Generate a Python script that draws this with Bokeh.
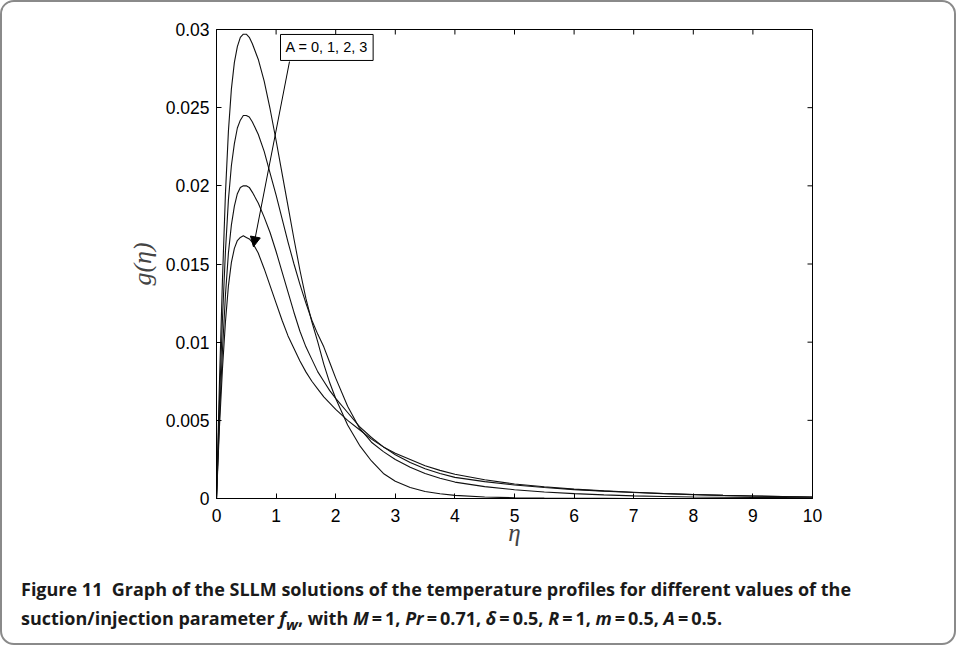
from bokeh.plotting import figure
from bokeh.models import (Range1d, FixedTicker, NumeralTickFormatter,
                          Label, Arrow, NormalHead, Div)
from bokeh.layouts import column
from bokeh.embed import file_html
from bokeh.resources import INLINE

# ---------------- data ----------------
eta = [0, 0.05, 0.1, 0.15, 0.2, 0.25, 0.3, 0.35, 0.4, 0.45, 0.5, 0.55, 0.6,
       0.7, 0.8, 0.9, 1.0, 1.1, 1.2, 1.3, 1.4, 1.5, 1.6, 1.7, 1.8, 1.9, 2.0,
       2.2, 2.4, 2.6, 2.8, 3.0,
       3.25, 3.5, 3.75, 4.0,
       4.5, 5.0, 5.5, 6.0, 6.5, 7.0, 7.5, 8.0, 8.5, 9.0, 9.5, 10.0]

g_A0 = [0, 0.0075, 0.0140, 0.0195, 0.0235, 0.0262, 0.0279, 0.0289, 0.0295, 0.0297, 0.0297, 0.0295, 0.0291,
        0.0281, 0.0267, 0.0249, 0.0229, 0.0208, 0.0187, 0.0166, 0.0146, 0.0128, 0.0113, 0.0100, 0.0086, 0.0074, 0.0064,
        0.0047, 0.0034, 0.0024, 0.0016, 0.0011,
        0.0007, 0.00045, 0.0003, 0.0002,
        0.0001, 0.00005, 0.00003, 0.00002, 0.00001, 0, 0, 0, 0, 0, 0, 0]

g_A1 = [0, 0.0062, 0.0115, 0.0158, 0.0191, 0.0213, 0.0227, 0.0237, 0.0242, 0.0245, 0.0245, 0.0244, 0.0241,
        0.0233, 0.0222, 0.0208, 0.0194, 0.0179, 0.0164, 0.0150, 0.0137, 0.0125, 0.0114, 0.0105, 0.0097, 0.0087, 0.0077,
        0.0059, 0.0045, 0.0036, 0.0030, 0.0025,
        0.0020, 0.0016, 0.0013, 0.00105,
        0.00076, 0.00056, 0.00042, 0.00031, 0.00023, 0.00017, 0.00013, 0.0001, 0.00008, 0.00007, 0.00006, 0.00005]

g_A2 = [0, 0.0052, 0.0095, 0.0130, 0.0157, 0.0175, 0.0187, 0.0195, 0.0199, 0.0200, 0.0200, 0.0199, 0.0196,
        0.0189, 0.0180, 0.0170, 0.0158, 0.0145, 0.0132, 0.0119, 0.0107, 0.0097, 0.0089, 0.0081, 0.0075, 0.0069, 0.0064,
        0.0055, 0.0046, 0.0039, 0.0033, 0.0028,
        0.0023, 0.0019, 0.0016, 0.00135,
        0.00108, 0.00086, 0.0007, 0.00057, 0.00047, 0.00038, 0.00031, 0.00025, 0.0002, 0.00016, 0.00012, 0.0001]

g_A3 = [0, 0.0046, 0.0083, 0.0113, 0.0136, 0.0151, 0.0160, 0.0165, 0.0167, 0.0168, 0.0167, 0.0166, 0.0164,
        0.0157, 0.0147, 0.0136, 0.0125, 0.0114, 0.0104, 0.0096, 0.0088, 0.0081, 0.0075, 0.0070, 0.0065, 0.0061, 0.0057,
        0.0050, 0.0044, 0.0038, 0.0033, 0.0029,
        0.0025, 0.0021, 0.0018, 0.00155,
        0.0012, 0.00093, 0.00075, 0.0006, 0.00049, 0.0004, 0.00032, 0.00026, 0.0002, 0.00016, 0.00013, 0.0001]

series = [g_A0, g_A1, g_A2, g_A3]

x_ticks = [0, 1, 2, 3, 4, 5, 6, 7, 8, 9, 10]
y_ticks = [0, 0.005, 0.01, 0.015, 0.02, 0.025, 0.03]

x_label = "η"
y_label = "g(η)"
annotation_text = "A = 0, 1, 2, 3"
caption_html = ("Figure 11&nbsp;&nbsp;Graph of the SLLM solutions of the temperature profiles for different values of the<br>"
                "suction/injection parameter <i>f<sub>w</sub></i>, with <i>M</i>&#8201;=&#8201;1, <i>Pr</i>&#8201;=&#8201;0.71, "
                "<i>&delta;</i>&#8201;=&#8201;0.5, <i>R</i>&#8201;=&#8201;1, <i>m</i>&#8201;=&#8201;0.5, <i>A</i>&#8201;=&#8201;0.5.")

# ---------------- layout constants ----------------
X0, X1 = 0, 10
Y0, Y1 = 0, 0.03
FRAME_W, FRAME_H = 596, 469
TICK_PX = 5

p = figure(width=948, height=554, x_range=Range1d(X0, X1), y_range=Range1d(Y0, Y1),
           output_backend="svg", toolbar_location=None,
           min_border_left=214, min_border_right=138, min_border_top=27, min_border_bottom=58)
p.grid.visible = False
p.outline_line_color = "black"
p.outline_line_width = 1
p.background_fill_color = "white"
p.border_fill_color = "white"

for g in series:
    p.line(eta, g, line_color="#111111", line_width=1.1)

# inward ticks on the top and right edges (matlab-style box)
dy = TICK_PX * (Y1 - Y0) / FRAME_H
dx = TICK_PX * (X1 - X0) / FRAME_W
p.segment(x0=x_ticks, y0=[Y1] * len(x_ticks), x1=x_ticks, y1=[Y1 - dy] * len(x_ticks),
          line_color="black", line_width=1)
p.segment(x0=[X1] * len(y_ticks), y0=y_ticks, x1=[X1 - dx] * len(y_ticks), y1=y_ticks,
          line_color="black", line_width=1)

def style_axis(ax):
    ax.major_tick_in = TICK_PX
    ax.major_tick_out = 0
    ax.minor_tick_in = 0
    ax.minor_tick_out = 0
    ax.axis_line_color = "black"
    ax.major_tick_line_color = "black"
    ax.major_label_text_font = "Liberation Sans"
    ax.major_label_text_font_size = "17.5px"
    ax.major_label_text_color = "black"

xa = p.xaxis[0]
xa.ticker = FixedTicker(ticks=x_ticks)
style_axis(xa)
xa.major_label_standoff = 10
xa.axis_label = x_label
xa.axis_label_text_font = "Liberation Serif"
xa.axis_label_text_font_style = "italic"
xa.axis_label_text_font_size = "25px"
xa.axis_label_standoff = -6

ya = p.yaxis[0]
ya.ticker = FixedTicker(ticks=y_ticks)
ya.formatter = NumeralTickFormatter(format="0.[000]")
style_axis(ya)
ya.major_label_standoff = 7
ya.axis_label = y_label
ya.axis_label_text_font = "Liberation Serif"
ya.axis_label_text_font_style = "italic"
ya.axis_label_text_font_size = "26px"
ya.axis_label_standoff = 6

p.add_layout(Label(x=1.074, y=0.02802, text=annotation_text, text_font="Liberation Sans",
                   text_font_size="14.5px", text_color="black", text_align="left",
                   text_baseline="bottom", border_line_color="black", border_line_width=1,
                   background_fill_color="white", padding=5))

p.add_layout(Arrow(end=NormalHead(size=10, fill_color="black", line_color="black"),
                   x_start=1.225, y_start=0.02795, x_end=0.62, y_end=0.0161,
                   line_color="black", line_width=1))

caption = Div(text=caption_html, width=948, height=83,
              styles={"font-family": "Open Sans", "font-weight": "bold", "font-size": "18px",
                      "line-height": "29px", "padding-left": "14px", "padding-top": "14px",
                      "white-space": "nowrap", "color": "#1a1a1a", "box-sizing": "border-box"})

layout = column(p, caption, width=952, height=641,
                styles={"border": "2px solid #8a8a8a", "border-radius": "14px",
                        "overflow": "hidden", "background": "white",
                        "box-sizing": "content-box"})

open("out.html", "w").write(file_html(layout, INLINE))
